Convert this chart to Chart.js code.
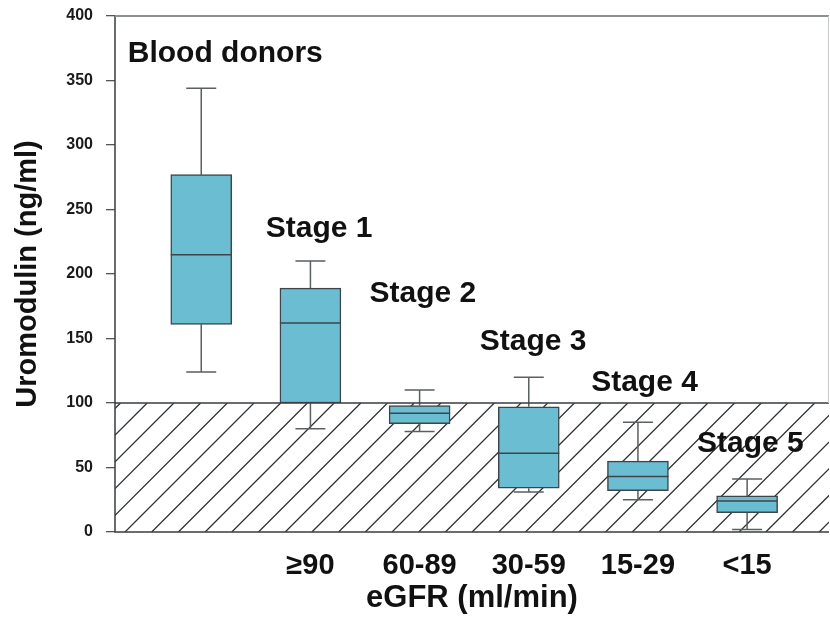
<!DOCTYPE html>
<html>
<head>
<meta charset="utf-8">
<title>Uromodulin by eGFR</title>
<script src="https://cdn.jsdelivr.net/npm/chart.js@4.4.1/dist/chart.umd.min.js"></script>
<style>
  html, body { margin: 0; padding: 0; background: #fff; }
  canvas { display: block; }
</style>
</head>
<body>
<canvas id="uromodulinChart" width="830" height="621"></canvas>
<script>
// ------------------------- Data -------------------------
const groups = ['Blood donors', 'Stage 1', 'Stage 2', 'Stage 3', 'Stage 4', 'Stage 5'];
const tickLabels = ['', '≥90', '60-89', '30-59', '15-29', '<15'];
const whiskerLow = [124, 80, 78, 31, 25, 2];
const q1 = [161, 100, 84, 34, 32, 15];
const median = [215, 162, 92, 61, 43, 24];
const q3 = [277, 189, 98, 97, 55, 28];
const whiskerHigh = [344, 210, 110, 120, 85, 41];
const normalLimit = 100;
const yTicks = [0, 50, 100, 150, 200, 250, 300, 350, 400];

// ------------------------- Styling -------------------------
const FONT = '"Liberation Sans", Arial, Helvetica, sans-serif';
const boxFill = '#6bbed2';
const boxLine = '#3d4548';
const whiskerColor = '#5a5f61';
// where each group name sits (x in category units, y in ng/ml, text baseline)
const labelAnchors = [[0.22, 364], [1.08, 229], [2.03, 178], [3.04, 141], [4.06, 109], [5.03, 62]];

// ------------------------- Box plot plugin -------------------------
const boxPlot = {
  id: 'boxPlot',
  beforeDatasetsDraw(chart) {
    const { ctx, chartArea: a, scales: { x, y } } = chart;

    // hatched band below the normal limit
    const yTop = y.getPixelForValue(normalLimit);
    const yBot = y.getPixelForValue(0);
    const h = yBot - yTop;
    ctx.save();
    ctx.beginPath();
    ctx.rect(a.left, yTop, a.right - a.left, h);
    ctx.clip();
    ctx.strokeStyle = '#2f3335';
    ctx.lineWidth = 1.3;
    ctx.beginPath();
    for (let sx = a.left + 10 - 26.7 * 6; sx < a.right + 5; sx += 26.7) {
      ctx.moveTo(sx, yBot);
      ctx.lineTo(sx + h, yTop);
    }
    ctx.stroke();
    ctx.restore();

    // whiskers (drawn under the boxes)
    ctx.save();
    ctx.strokeStyle = whiskerColor;
    ctx.lineWidth = 1.5;
    const cap = 15;
    groups.forEach((g, i) => {
      const cx = x.getPixelForValue(i);
      const lo = y.getPixelForValue(whiskerLow[i]);
      const hi = y.getPixelForValue(whiskerHigh[i]);
      const b1 = y.getPixelForValue(q1[i]);
      const b3 = y.getPixelForValue(q3[i]);
      ctx.beginPath();
      ctx.moveTo(cx, b3); ctx.lineTo(cx, hi);
      ctx.moveTo(cx - cap, hi); ctx.lineTo(cx + cap, hi);
      ctx.moveTo(cx, b1); ctx.lineTo(cx, lo);
      ctx.moveTo(cx - cap, lo); ctx.lineTo(cx + cap, lo);
      ctx.stroke();
    });
    ctx.restore();
  },
  afterDatasetsDraw(chart) {
    const { ctx, chartArea: a, scales: { x, y } } = chart;
    const bars = chart.getDatasetMeta(0).data;

    // medians
    ctx.save();
    ctx.strokeStyle = boxLine;
    ctx.lineWidth = 1.5;
    bars.forEach((bar, i) => {
      const my = y.getPixelForValue(median[i]);
      ctx.beginPath();
      ctx.moveTo(bar.x - bar.width / 2, my);
      ctx.lineTo(bar.x + bar.width / 2, my);
      ctx.stroke();
    });
    ctx.restore();

    // normal limit line and plot frame
    ctx.save();
    const yLim = y.getPixelForValue(normalLimit);
    ctx.strokeStyle = '#3a3e40';
    ctx.lineWidth = 1.5;
    ctx.beginPath();
    ctx.moveTo(a.left, yLim); ctx.lineTo(a.right, yLim);
    ctx.moveTo(a.left, a.top); ctx.lineTo(a.left, a.bottom); ctx.lineTo(a.right, a.bottom);
    ctx.stroke();
    ctx.strokeStyle = '#8c9090';
    ctx.lineWidth = 2;
    ctx.beginPath();
    ctx.moveTo(a.left, a.top); ctx.lineTo(a.right, a.top);
    ctx.stroke();
    ctx.strokeStyle = '#c8cccc';
    ctx.lineWidth = 1;
    ctx.beginPath();
    ctx.moveTo(a.right - 0.5, a.top); ctx.lineTo(a.right - 0.5, yLim);
    ctx.stroke();
    ctx.restore();

    // group names
    ctx.save();
    ctx.font = 'bold 30px ' + FONT;
    ctx.fillStyle = '#111';
    ctx.textAlign = 'center';
    ctx.textBaseline = 'alphabetic';
    groups.forEach((g, i) => {
      const [lx, ly] = labelAnchors[i];
      ctx.fillText(g, x.getPixelForValue(lx), y.getPixelForValue(ly));
    });
    ctx.restore();
  }
};

// ------------------------- Chart -------------------------
const ctx = document.getElementById('uromodulinChart').getContext('2d');
new Chart(ctx, {
  type: 'bar',
  data: {
    datasets: [{
      data: groups.map((g, i) => ({ x: i, y: [q1[i], q3[i]] })),
      backgroundColor: boxFill,
      borderColor: boxLine,
      borderWidth: 1.5,
      borderSkipped: false,
      barThickness: 61
    }]
  },
  options: {
    responsive: false,
    animation: false,
    layout: { padding: { top: 16, right: 1, left: 0, bottom: 0 } },
    plugins: { legend: { display: false }, tooltip: { enabled: false } },
    scales: {
      x: {
        type: 'linear',
        offset: false,
        min: -0.79,
        max: 5.75,
        afterBuildTicks: s => { s.ticks = tickLabels.map((t, i) => ({ value: i })); },
        afterFit: s => { s.height = 89; s.paddingLeft = 0; s.paddingRight = 0; },
        grid: { display: false },
        border: { display: false },
        ticks: {
          autoSkip: false,
          maxRotation: 0,
          padding: 9,
          color: '#111',
          font: { family: FONT, size: 29, weight: 'bold' },
          callback: v => tickLabels[v]
        },
        title: {
          display: true,
          text: 'eGFR (ml/min)',
          color: '#111',
          font: { family: FONT, size: 31, weight: 'bold' },
          padding: { top: 0, bottom: 4 }
        }
      },
      y: {
        min: 0,
        max: 400,
        afterBuildTicks: s => { s.ticks = yTicks.map(v => ({ value: v })); },
        afterFit: s => { s.width = 115; s.paddingTop = 0; s.paddingBottom = 0; },
        grid: { drawOnChartArea: false, tickLength: 9, color: '#555', lineWidth: 1.3 },
        border: { display: false },
        ticks: {
          padding: 13,
          color: '#1a1a1a',
          font: { family: FONT, size: 16, weight: 'bold' }
        },
        title: {
          display: true,
          text: 'Uromodulin (ng/ml)',
          color: '#111',
          font: { family: FONT, size: 29, weight: 'bold' },
          padding: { top: 11, bottom: 0 }
        }
      }
    }
  },
  plugins: [boxPlot]
});
</script>
</body>
</html>
